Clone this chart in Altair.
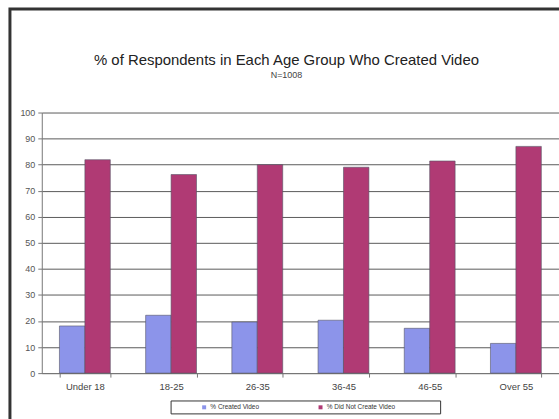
import altair as alt
import pandas as pd

# Survey breakdown by age group
age_groups = ["Under 18", "18-25", "26-35", "36-45", "46-55", "Over 55"]
created = [18.1, 22.2, 19.6, 20.3, 17.2, 11.4]
not_created = [81.9, 76.2, 80.0, 79.0, 81.4, 87.0]
series = ["% Created Video", "% Did Not Create Video"]
colors = ["#8c94ea", "#b03a74"]

rows = []
for g, c, n in zip(age_groups, created, not_created):
    rows.append({"group": g, "series": series[0], "value": c})
    rows.append({"group": g, "series": series[1], "value": n})
df = pd.DataFrame(rows)

PLOT_W, PLOT_H = 520, 262

bars = alt.Chart(df).mark_bar(stroke="#555566", strokeWidth=0.6).encode(
    x=alt.X(
        "group:N",
        sort=age_groups,
        title=None,
        scale=alt.Scale(paddingInner=0.41, paddingOuter=0.205),
        axis=alt.Axis(
            labelAngle=0,
            labelFont="Liberation Sans",
            labelFontSize=9.5,
            labelColor="#444444",
            labelPadding=4,
            domainColor="#777777",
            tickColor="#777777",
            tickBand="extent",
            tickSize=4,
            grid=False,
        ),
    ),
    xOffset=alt.XOffset("series:N", sort=series),
    y=alt.Y(
        "value:Q",
        title=None,
        scale=alt.Scale(domain=[0, 100], nice=False),
        axis=alt.Axis(
            values=list(range(0, 101, 10)),
            labelFont="Liberation Sans",
            labelFontSize=9,
            labelColor="#555555",
            labelPadding=3,
            domainColor="#777777",
            tickColor="#777777",
            tickSize=4,
            grid=True,
            gridColor="#5a5a5a",
            gridWidth=1,
        ),
    ),
    color=alt.Color(
        "series:N",
        sort=series,
        scale=alt.Scale(domain=series, range=colors),
        legend=alt.Legend(
            title=None,
            orient="none",
            legendX=158,
            legendY=291,
            direction="horizontal",
            symbolType="square",
            symbolSize=16,
            symbolStrokeWidth=0,
            labelFont="Liberation Sans",
            labelFontSize=6.5,
            labelColor="#333333",
            labelOffset=3,
            columnPadding=58,
            padding=2,
            offset=0,
        ),
    ),
)

# Outer frame around the whole chart
frame = alt.Chart(pd.DataFrame({"a": [0]})).mark_rect(
    fill=None, stroke="#333333", strokeWidth=3
).encode(
    x=alt.value(-32), x2=alt.value(PLOT_W + 40),
    y=alt.value(-104), y2=alt.value(PLOT_H + 60),
)

# Box around the legend entries
legend_box = alt.Chart(pd.DataFrame({"a": [0]})).mark_rect(
    fill=None, stroke="#333333", strokeWidth=1
).encode(
    x=alt.value(130), x2=alt.value(401),
    y=alt.value(290), y2=alt.value(303),
)

# Title and sample size, centred above the plot
title = alt.Chart(pd.DataFrame({"t": ["% of Respondents in Each Age Group Who Created Video"]})).mark_text(
    font="Liberation Sans", fontSize=15, color="#222222", align="center", baseline="middle"
).encode(text="t:N", x=alt.value(246), y=alt.value(-53))

subtitle = alt.Chart(pd.DataFrame({"t": ["N=1008"]})).mark_text(
    font="Liberation Sans", fontSize=9, color="#444444", align="center", baseline="middle"
).encode(text="t:N", x=alt.value(246), y=alt.value(-38))

chart = alt.layer(bars, frame, legend_box, title, subtitle).properties(
    width=PLOT_W,
    height=PLOT_H,
    autosize=alt.AutoSizeParams(type="none"),
    padding={"left": 42, "top": 112, "right": 0, "bottom": 45},
).configure_view(stroke=None)

chart.save("out.html", embed_options={"renderer": "svg", "actions": False})
